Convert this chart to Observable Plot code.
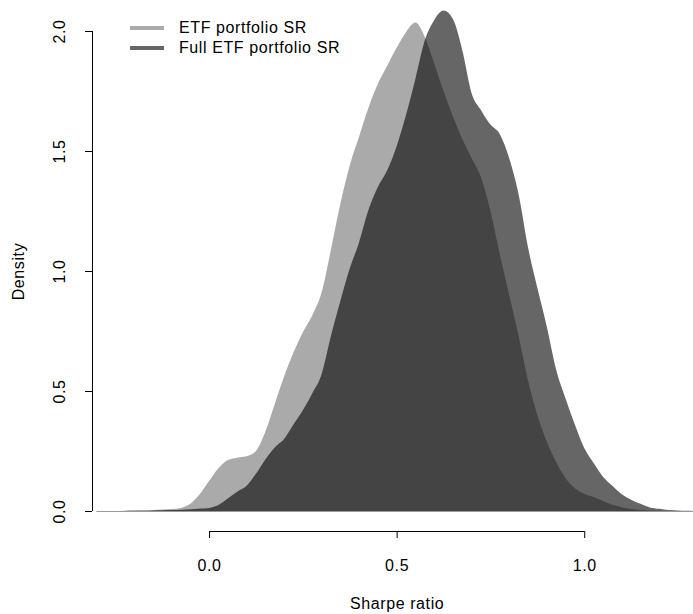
<!DOCTYPE html>
<html><head><meta charset="utf-8">
<script src="https://cdn.jsdelivr.net/npm/d3@7"></script>
<script src="https://cdn.jsdelivr.net/npm/@observablehq/plot@0.6"></script>
<style>
body{margin:0;background:#fff;}
#wrap{position:relative;width:693px;height:614px;font-family:"Liberation Sans",Arial,Helvetica,sans-serif;}
#legend{position:absolute;left:130px;top:18px;font-size:16px;letter-spacing:0.6px;color:#000;}
.row{display:flex;align-items:center;height:20px;white-space:nowrap;}
.sw{width:34px;height:3.5px;margin-right:15px;}
</style></head>
<body><div id="wrap"><div id="chart"></div><div id="legend"></div></div>
<script>
const seriesNames = ["ETF portfolio SR", "Full ETF portfolio SR"];
const seriesColors = ["#aaaaaa", "#666666"];
const seriesOpacity = [1/3, 0.6];
const xLabel = "Sharpe ratio";
const yLabel = "Density";
const xTicks = [0, 0.5, 1.0];
const yTicks = [0, 0.5, 1.0, 1.5, 2.0];
const xDomain = [-0.312, 1.29];
const yDomain = [-1/12, 2];

const xs = [
 -0.3,-0.275,-0.25,-0.225,-0.2,-0.175,-0.15,-0.125,-0.1,-0.075,
 -0.05,-0.025,0,0.025,0.05,0.075,0.1,0.125,0.15,0.175,
 0.2,0.225,0.25,0.275,0.3,0.325,0.35,0.375,0.4,0.425,
 0.45,0.475,0.5,0.525,0.55,0.575,0.6,0.625,0.65,0.675,
 0.7,0.725,0.75,0.775,0.8,0.825,0.85,0.875,0.9,0.925,
 0.95,0.975,1,1.025,1.05,1.075,1.1,1.125,1.15,1.175,
 1.2,1.225,1.25,1.275,1.3
];
const etfDensity = [
 0,0,0,0.001,0.002,0.003,0.004,0.006,0.008,0.013,
 0.03,0.07,0.125,0.178,0.212,0.222,0.228,0.25,0.33,0.445,
 0.56,0.66,0.745,0.815,0.91,1.09,1.28,1.44,1.56,1.68,
 1.78,1.855,1.93,1.995,2.035,1.975,1.865,1.75,1.645,1.55,
 1.47,1.39,1.25,1.07,0.90,0.73,0.545,0.40,0.29,0.205,
 0.138,0.095,0.072,0.058,0.042,0.026,0.016,0.008,0.004,0.002,
 0.001,0,0,0,0
];
const fullEtfDensity = [
 0,0,0,0,0.001,0.001,0.002,0.003,0.004,0.005,
 0.007,0.01,0.013,0.025,0.052,0.08,0.105,0.155,0.215,0.265,
 0.30,0.36,0.42,0.49,0.57,0.73,0.875,1.01,1.12,1.255,
 1.35,1.42,1.52,1.65,1.80,1.96,2.045,2.085,2.05,1.92,
 1.74,1.67,1.61,1.57,1.47,1.32,1.10,0.93,0.77,0.59,
 0.47,0.36,0.262,0.20,0.143,0.105,0.07,0.047,0.03,0.015,
 0.009,0.004,0.002,0.001,0
];

const table = [];
[etfDensity, fullEtfDensity].forEach((vals, s) => {
  xs.forEach((x, i) => table.push({series: seriesNames[s], x, y: vals[i]}));
});

const font = '"Liberation Sans", Arial, Helvetica, sans-serif';
const plot = Plot.plot({
  width: 693, height: 614,
  marginLeft: 92, marginRight: 0, marginTop: 31, marginBottom: 83,
  x: {domain: xDomain, label: null},
  y: {domain: yDomain, label: null},
  style: {fontFamily: font, fontSize: "16px", letterSpacing: "0.6px", background: "white", color: "black", overflow: "visible"},
  marks: [
    ...seriesNames.map((name, s) => Plot.areaY(table.filter(d => d.series === name), {
      x: "x", y: "y", fill: "black", fillOpacity: seriesOpacity[s], curve: "monotone-x"
    })),
    Plot.ruleY([0], {x1: xs[0], x2: xs[xs.length - 1], stroke: "#999999", strokeWidth: 1}),
    Plot.axisX({ticks: xTicks, tickSize: 7, tickFormat: () => "", label: null}),
    Plot.ruleY([yDomain[0]], {x1: xTicks[0], x2: xTicks[xTicks.length - 1], stroke: "black"}),
    Plot.text(xTicks, {x: d => d, text: d => d.toFixed(1), frameAnchor: "bottom", dy: 34, lineAnchor: "middle", fill: "black"}),
    Plot.axisY({ticks: yTicks, tickSize: 7, tickFormat: () => "", label: null}),
    Plot.ruleX([xDomain[0]], {y1: yTicks[0], y2: yTicks[yTicks.length - 1], stroke: "black"}),
    Plot.text(yTicks, {y: d => d, text: d => d.toFixed(1), frameAnchor: "left", dx: -33, rotate: -90, textAnchor: "middle", lineAnchor: "middle", fill: "black"}),
    Plot.text([xLabel], {x: (xTicks[0] + xTicks[xTicks.length - 1]) / 2, text: d => d, frameAnchor: "bottom", dy: 72, lineAnchor: "middle", fill: "black"}),
    Plot.text([yLabel], {y: (yTicks[0] + yTicks[yTicks.length - 1]) / 2, text: d => d, frameAnchor: "left", dx: -74, rotate: -90, textAnchor: "middle", lineAnchor: "middle", fill: "black"})
  ]
});
document.getElementById("chart").appendChild(plot);

const legend = document.getElementById("legend");
seriesNames.forEach((name, s) => {
  const row = document.createElement("div");
  row.className = "row";
  const sw = document.createElement("span");
  sw.className = "sw";
  sw.style.background = seriesColors[s];
  const t = document.createElement("span");
  t.textContent = name;
  row.appendChild(sw); row.appendChild(t);
  legend.appendChild(row);
});
</script>
</body></html>
